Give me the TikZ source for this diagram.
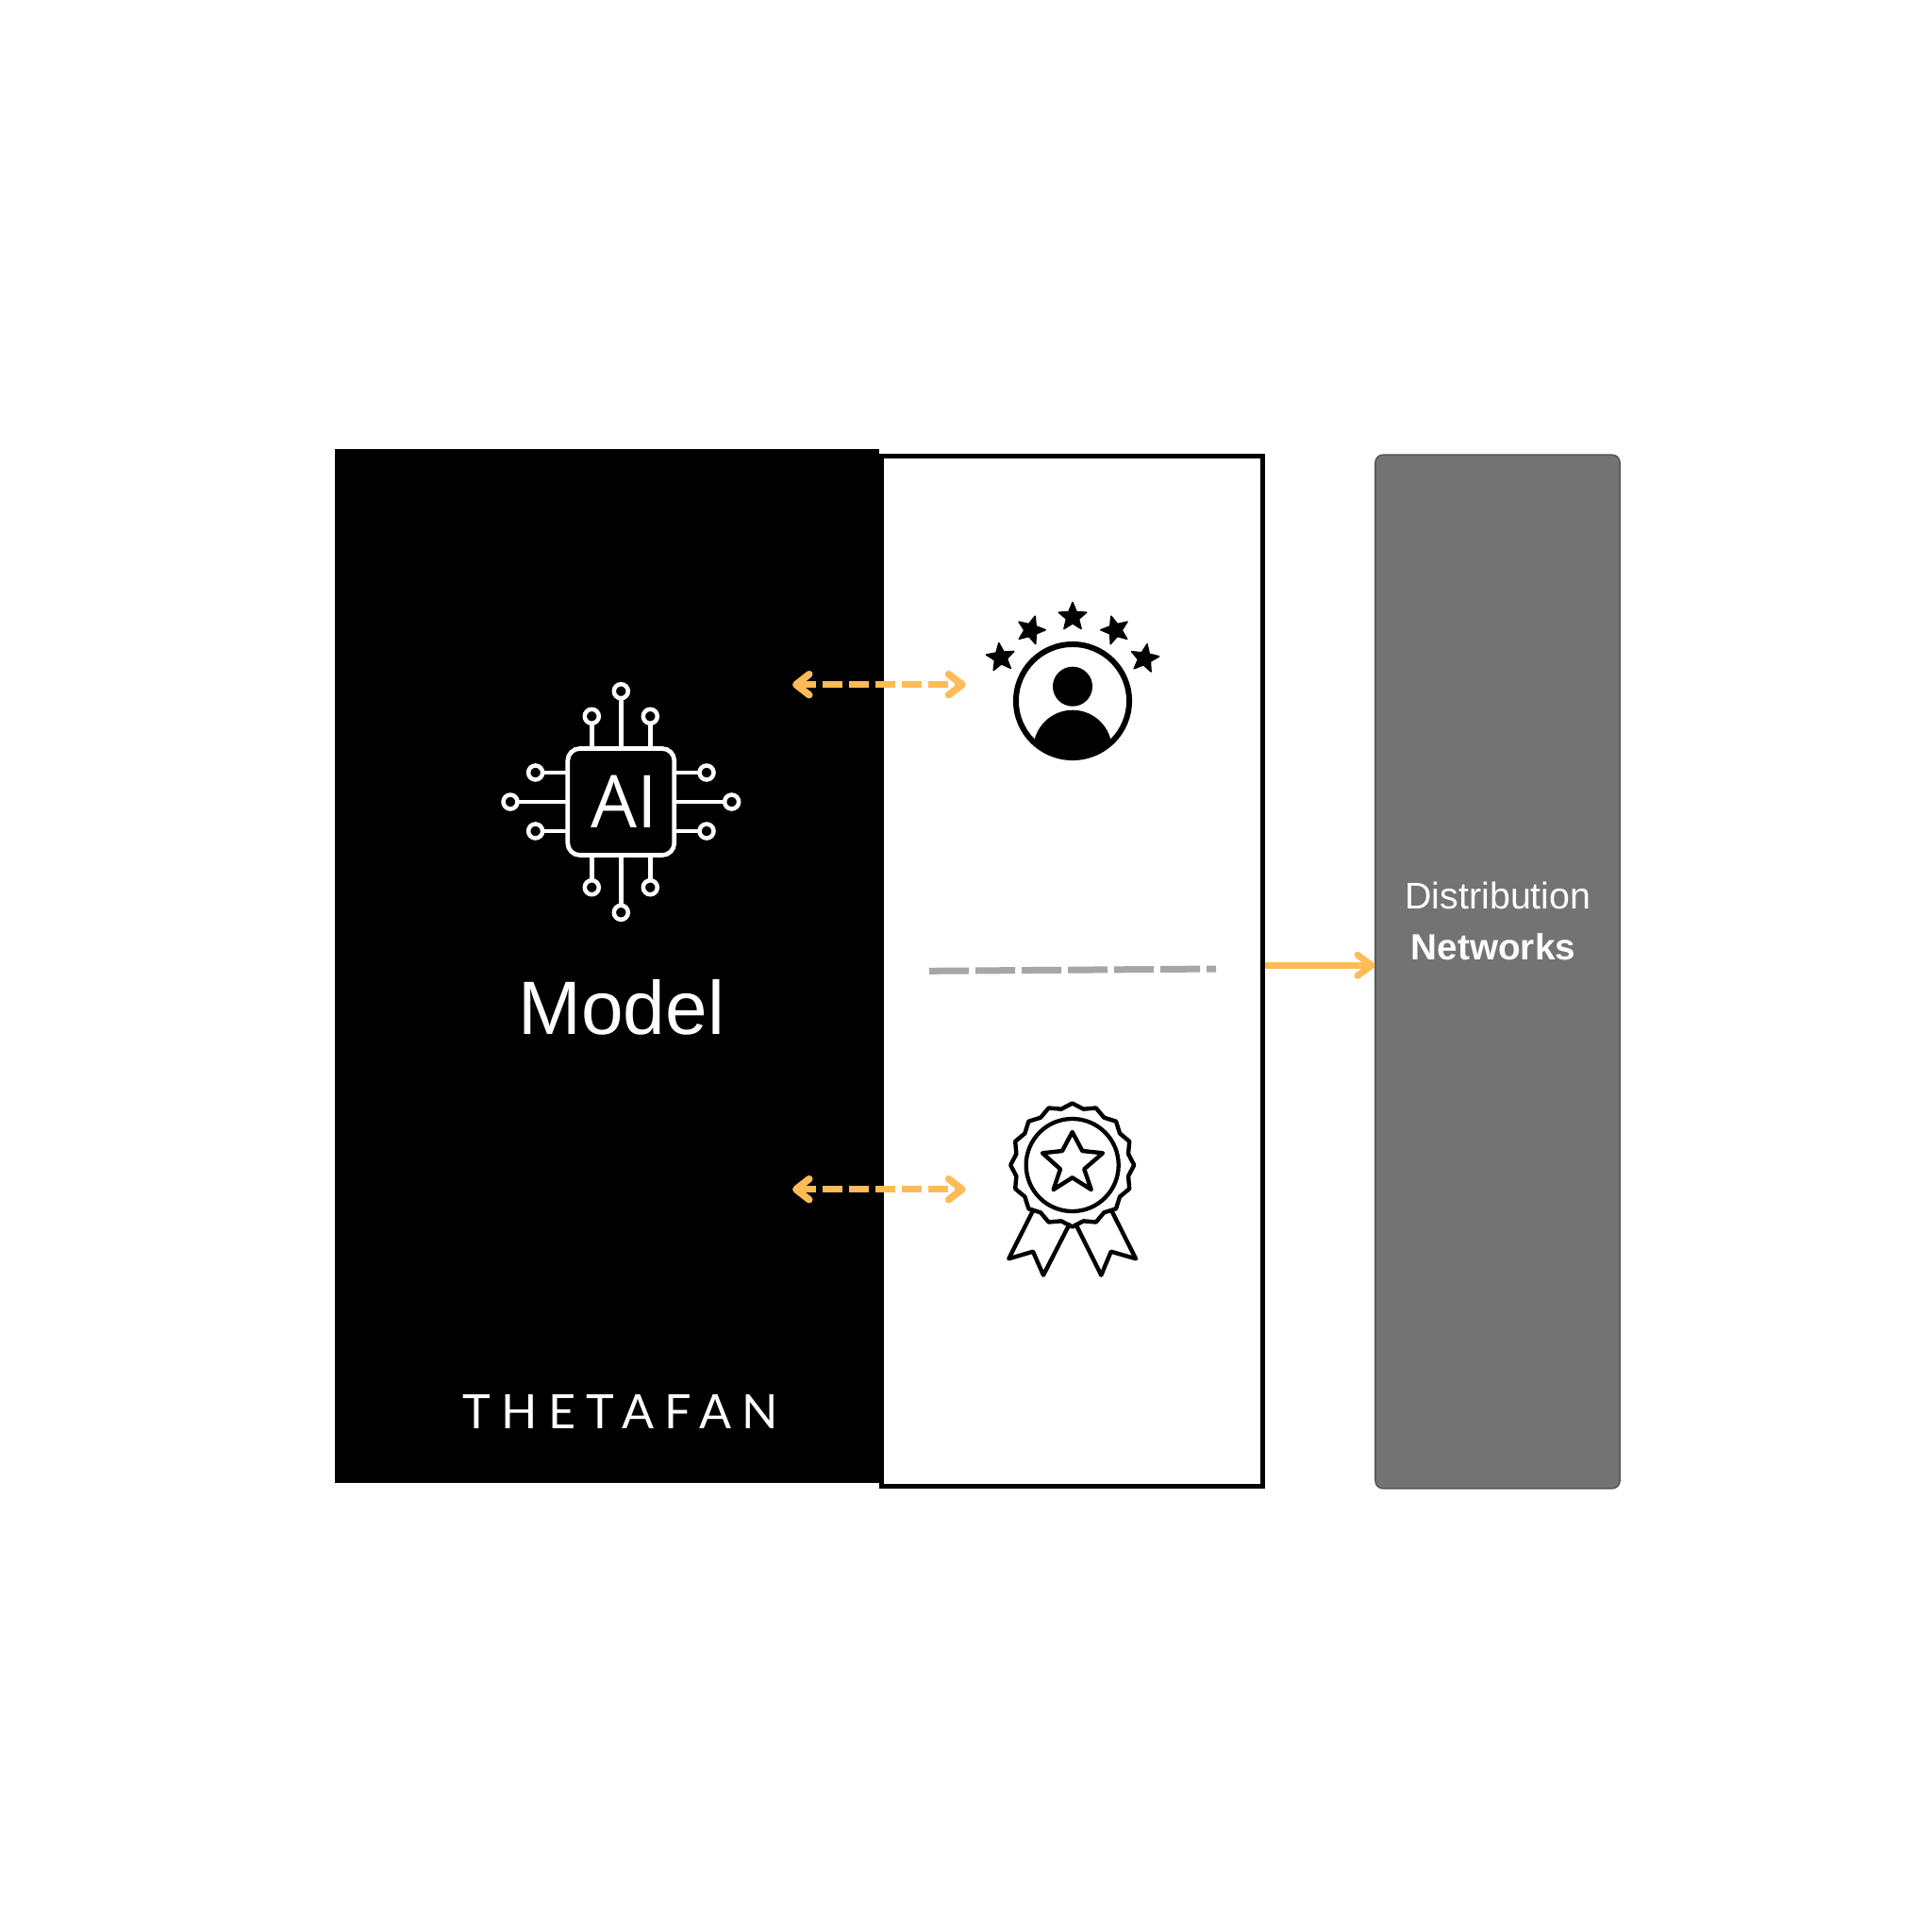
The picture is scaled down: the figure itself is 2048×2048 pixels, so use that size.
\documentclass[tikz,border=0pt]{standalone}
\usepackage{fontspec}
\setmainfont{Liberation Sans}
\newfontfamily\latospaced[LetterSpace=22.5]{Lato}
\newfontfamily\aifont{Open Sans}
\usetikzlibrary{arrows.meta,shapes.geometric}
\definecolor{orangeline}{HTML}{FFBB55}
\definecolor{grayline}{HTML}{A6A6A6}
\definecolor{netfill}{HTML}{737373}
\definecolor{netdraw}{HTML}{555555}
\tikzset{
  x=0.01cm,y=-0.01cm,
  lw/.style={line width=#1*0.01cm},
  box/.style={rectangle,inner sep=0pt,outer sep=0pt},
  dashedlink/.style={orangeline,lw=7.5,dash pattern=on 0.21cm off 0.07cm},
  headline/.style={orangeline,lw=7.5,line cap=round,line join=round},
  solidlink/.style={orangeline,lw=7},
  greylink/.style={grayline,lw=7,dash pattern=on 0.42cm off 0.07cm},
  chip/.style={white,lw=4.5},
  pin/.style={circle,draw=white,lw=4.5,fill=black,minimum size=0.15cm,inner sep=0pt,outer sep=0pt},
  star5/.style={star,star points=5,star point ratio=2.25,fill=black,draw=black,lw=1.5,line join=round,minimum size=0.31cm,inner sep=0pt,outer sep=0pt},
  iconline/.style={black,lw=4.4,line join=round,line cap=round},
  txt/.style={white,inner sep=0pt,outer sep=0pt,anchor=base},
}
\begin{document}
\begin{tikzpicture}
\useasboundingbox (0,0) rectangle (2048,2048);
\fill[white] (0,0) rectangle (2048,2048);
% panels
\node[box,fill=black,minimum width=5.77cm,minimum height=10.96cm] (model) at (643.5,1024) {};
\node[box,draw=black,fill=white,lw=5,minimum width=4.04cm,minimum height=10.92cm] (panel) at (1136.5,1029.5) {};
\node[box,fill=netfill,draw=netdraw,lw=1.5,rounded corners=0.08cm,minimum width=2.59cm,minimum height=10.95cm] (net) at (1587.5,1030) {};
% chip icon
\node[box,draw=white,lw=4.7,rounded corners=0.13cm,minimum width=1.13cm,minimum height=1.13cm] (chipbox) at (658.3,850) {};
\foreach \n/\dx/\dy/\ey in {a/0/-117.3/-56.5,b/-31/-90.7/-56.5,c/31/-90.7/-56.5,d/0/117.3/56.5,e/-31/90.7/56.5,f/31/90.7/56.5}{
  \node[pin] (pin\n) at (658.3+\dx,850+\dy) {};
  \draw[chip] (pin\n) -- (658.3+\dx,850+\ey);
}
\foreach \n/\dx/\dy/\ex in {g/-117.3/0/-56.5,h/-90.7/-31/-56.5,i/-90.7/31/-56.5,j/117.3/0/56.5,k/90.7/-31/56.5,l/90.7/31/56.5}{
  \node[pin] (pin\n) at (658.3+\dx,850+\dy) {};
  \draw[chip] (pin\n) -- (658.3+\ex,850+\dy);
}
\node[txt,font=\aifont\fontsize{22}{26}\selectfont] (ai) at (662,877.3) {AI};
\node[txt,font=\fontsize{22.8}{26}\selectfont] (modeltxt) at (658.8,1096.5) {Model};
\node[txt,font=\latospaced\fontsize{14.3}{18}\selectfont] (brand) at (658,1514.3) {THETAFAN};
% person icon
\begin{scope}
\clip (1137,743) circle (61);
\fill[black] (1137,794.4) circle (41.7);
\end{scope}
\node[circle,draw=black,lw=6,minimum size=1.2cm,inner sep=0pt,outer sep=0pt] (personring) at (1137,743) {};
\node[circle,fill=black,minimum size=0.42cm,inner sep=0pt,outer sep=0pt] (personhead) at (1137,727.7) {};
\node[star5] (s1) at (1137,654) {};
\node[star5,rotate=-17] (s2) at (1092.7,668) {};
\node[star5,rotate=17] (s3) at (1182.3,668) {};
\node[star5,rotate=7] (s4) at (1060.7,697) {};
\node[star5,rotate=-10] (s5) at (1213.3,698) {};
% badge
\begin{scope}[shift={(1136.7,1235)}]
\draw[iconline] (0:65.5) \foreach \a in {0,22.5,...,337.5}{ -- (\a+11.25:60.5) -- (\a+22.5:65.5)} -- cycle;
\end{scope}
\node[circle,draw=black,lw=4.3,minimum size=0.98cm,inner sep=0pt,outer sep=0pt] (badgering) at (1136.7,1235) {};
\draw[iconline] (1136.7,1200) -- (1147.3,1220) -- (1169,1222.3) -- (1149.3,1239.3) -- (1156.7,1261) -- (1136.7,1248.3) -- (1116.7,1261) -- (1124,1239.3) -- (1105,1222.3) -- (1126,1220) -- cycle;
\draw[iconline] (1095,1283.3) -- (1069.3,1334.3) -- (1095,1326.7) -- (1106,1351.7) -- (1133.3,1298.3);
\draw[iconline] (1178.3,1283.3) -- (1204,1334.3) -- (1177.7,1326.7) -- (1167.3,1351.7) -- (1140.7,1298.3);
% connectors
\coordinate (u1) at (843.8,725.7);
\coordinate (u2) at (1020,725.7);
\coordinate (v1) at (843.8,1260.7);
\coordinate (v2) at (1020,1260.7);
\coordinate (w1) at (1341,1023.3);
\coordinate (w2) at (1454,1023.3);
\coordinate (g1) at (985,1029.3);
\coordinate (g2) at (1289,1027);
\draw[dashedlink] (u1) -- (u2);
\draw[headline] (u1) ++(14,-11) -- (u1) -- ++(14,11);
\draw[headline] (u2) ++(-14.5,-11) -- (u2) -- ++(-14.5,11);
\draw[dashedlink] (v1) -- (v2);
\draw[headline] (v1) ++(14,-11) -- (v1) -- ++(14,11);
\draw[headline] (v2) ++(-14.5,-11) -- (v2) -- ++(-14.5,11);
\draw[solidlink] (w1) -- (w2);
\draw[headline,lw=7] (w2) ++(-15,-11) -- (w2) -- ++(-15,11);
\draw[greylink] (g1) -- (g2);
% network text
\node[txt,font=\fontsize{11.2}{13}\selectfont] (dist) at (1588,963) {Distribution};
\node[txt,font=\bfseries\fontsize{11}{13}\selectfont] (netw) at (1583,1017) {Networks};
\end{tikzpicture}
\end{document}
